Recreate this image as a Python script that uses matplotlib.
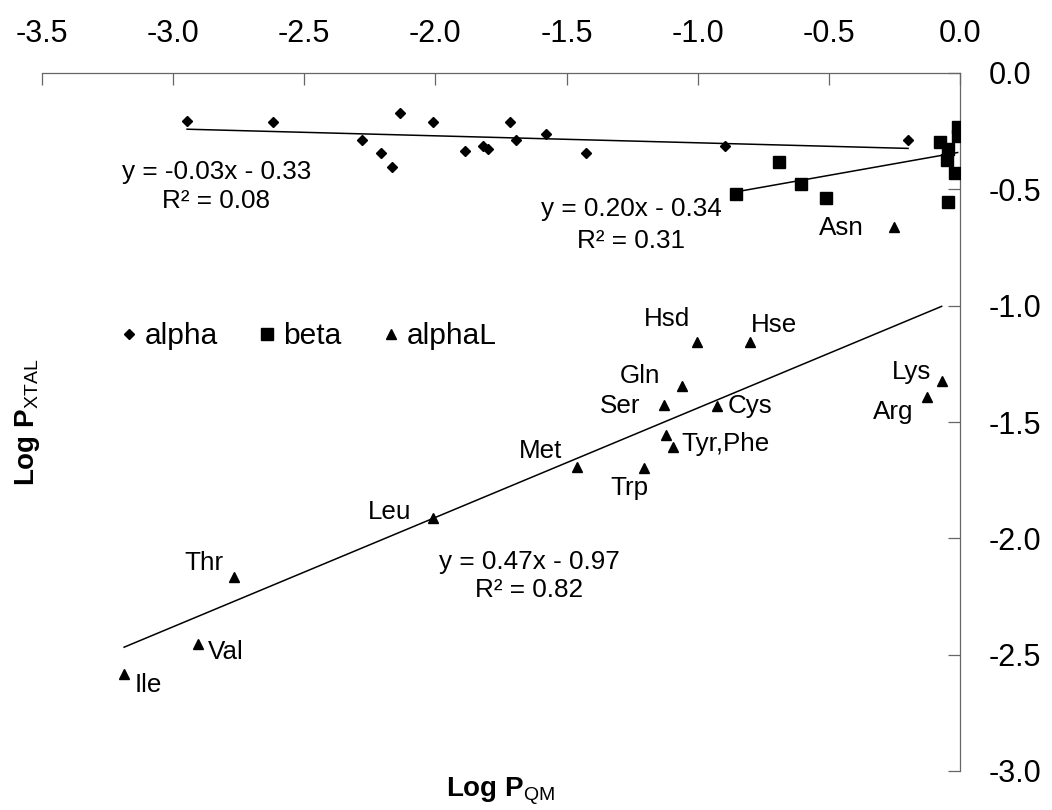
import matplotlib
matplotlib.use("Agg")
import matplotlib.pyplot as plt
import numpy as np
from matplotlib.ticker import FormatStrFormatter

plt.rcParams['font.family'] = ['Liberation Sans', 'DejaVu Sans']
plt.rcParams['axes.unicode_minus'] = False
plt.rcParams['mathtext.fontset'] = 'custom'
plt.rcParams['mathtext.rm'] = 'Liberation Sans'
plt.rcParams['mathtext.bf'] = 'Liberation Sans:bold'
plt.rcParams['mathtext.it'] = 'Liberation Sans:italic'

# ---------------- data ----------------
alpha_x = [-2.947, -2.619, -2.280, -2.207, -2.165, -2.135, -2.009, -1.887,
           -1.819, -1.799, -1.716, -1.693, -1.578, -1.426, -0.896, -0.198]
alpha_y = [-0.206, -0.211, -0.288, -0.344, -0.404, -0.172, -0.211, -0.335,
           -0.314, -0.327, -0.211, -0.288, -0.262, -0.344, -0.314, -0.288]

beta_x = [-0.855, -0.691, -0.606, -0.512, -0.076, -0.051, -0.047, -0.045,
          -0.019, -0.009, -0.009]
beta_y = [-0.520, -0.384, -0.477, -0.536, -0.295, -0.374, -0.553, -0.328,
          -0.431, -0.231, -0.271]

alphaL_names = ['Asn', 'Hsd', 'Hse', 'Gln', 'Ser', 'Cys', 'Tyr', 'Phe', 'Met',
                'Trp', 'Lys', 'Arg', 'Leu', 'Thr', 'Val', 'Ile']
alphaL_labels = ['Asn', 'Hsd', 'Hse', 'Gln', 'Ser', 'Cys', '', 'Tyr,Phe', 'Met',
                 'Trp', 'Lys', 'Arg', 'Leu', 'Thr', 'Val', 'Ile']
alphaL_x = [-0.252, -1.002, -0.799, -1.060, -1.127, -0.926, -1.121, -1.093,
            -1.461, -1.204, -0.070, -0.127, -2.008, -2.768, -2.904, -3.187]
alphaL_y = [-0.661, -1.155, -1.155, -1.345, -1.428, -1.431, -1.556, -1.606,
            -1.692, -1.696, -1.324, -1.391, -1.914, -2.168, -2.454, -2.583]

# trendline coefficients (slope, intercept) and R^2 as printed
alpha_fit = (-0.03, -0.33, 0.08)
beta_fit = (0.20, -0.34, 0.31)
alphaL_fit = (0.47, -0.97, 0.82)

x_ticks = [-3.5, -3.0, -2.5, -2.0, -1.5, -1.0, -0.5, 0.0]
y_ticks = [0.0, -0.5, -1.0, -1.5, -2.0, -2.5, -3.0]

# ---------------- layout / style ----------------
label_style = {  # (dx pt, dy pt, ha)
    'Asn': (-21.6, -1.2, 'right'), 'Hsd': (-4.8, 16.1, 'right'),
    'Hse': (0.3, 12.0, 'left'), 'Gln': (-15.8, 7.2, 'right'),
    'Ser': (-17.5, -0.5, 'right'), 'Cys': (7.7, 0.0, 'left'),
    'Tyr,Phe': (6.0, 1.9, 'left'), 'Met': (-10.6, 11.3, 'right'),
    'Trp': (-10.8, -14.8, 'center'), 'Lys': (-7.2, 6.7, 'right'),
    'Arg': (-9.6, -10.8, 'right'), 'Leu': (-15.6, 4.8, 'right'),
    'Thr': (-7.7, 10.5, 'right'), 'Val': (7.2, -5.5, 'left'),
    'Ile': (7.9, -7.9, 'left'),
}

W, H = 1052, 810
fig = plt.figure(figsize=(W / 100, H / 100), dpi=100)
ax = fig.add_axes([42 / W, 1 - 771 / H, 918 / W, 698 / H])

spine_c = '#666666'
ax.plot(alpha_x, alpha_y, ls='none', marker='D', ms=5.5, color='black',
        mec='black', label='alpha', zorder=3)
ax.plot(beta_x, beta_y, ls='none', marker='s', ms=8.3, color='black',
        mec='black', label='beta', zorder=3)
ax.plot(alphaL_x, alphaL_y, ls='none', marker='^', ms=7.0, color='black',
        mec='black', label='alphaL', zorder=3)

for (xs, ys, fit) in [(alpha_x, alpha_y, alpha_fit), (beta_x, beta_y, beta_fit),
                      (alphaL_x, alphaL_y, alphaL_fit)]:
    xx = np.array([min(xs), max(xs)])
    ax.plot(xx, fit[0] * xx + fit[1], color='black', lw=1.1, zorder=2)

for name, lab, x, y in zip(alphaL_names, alphaL_labels, alphaL_x, alphaL_y):
    if not lab:
        continue
    dx, dy, ha = label_style[lab]
    ax.annotate(lab, (x, y), xytext=(dx, dy), textcoords='offset points',
                ha=ha, va='center', fontsize=18.7)

def eq_text(fit):
    s, b, r2 = fit
    sign = '-' if b < 0 else '+'
    return f'y = {s:.2f}x {sign} {abs(b):.2f}', f'R\u00b2 = {r2:.2f}'

eq_pos = [(alpha_fit, -2.836, -0.425, -0.550),
          (beta_fit, -1.254, -0.584, -0.722),
          (alphaL_fit, -1.643, -2.101, -2.222)]
for fit, ex, ey1, ey2 in eq_pos:
    t1, t2 = eq_text(fit)
    ax.text(ex, ey1, t1, ha='center', va='center', fontsize=18.8)
    ax.text(ex, ey2, t2, ha='center', va='center', fontsize=18.8)

ax.set_xlim(-3.5, 0.0)
ax.set_ylim(-3.0, 0.0)
ax.set_xticks(x_ticks)
ax.set_yticks(y_ticks)
ax.xaxis.set_major_formatter(FormatStrFormatter('%.1f'))
ax.yaxis.set_major_formatter(FormatStrFormatter('%.1f'))
ax.xaxis.tick_top()
ax.yaxis.tick_right()
ax.tick_params(axis='x', direction='in', length=8.6, width=0.9, color=spine_c,
               pad=17, labelsize=22, top=True, bottom=False)
ax.tick_params(axis='y', direction='in', length=8.6, width=0.9, color=spine_c,
               pad=20.6, labelsize=22, right=True, left=False)
for side in ['left', 'bottom']:
    ax.spines[side].set_visible(False)
for side in ['top', 'right']:
    ax.spines[side].set_color(spine_c)
    ax.spines[side].set_linewidth(0.9)

leg = ax.legend(ncol=3, frameon=False, handlelength=0.55, handletextpad=0.26,
                columnspacing=1.37, borderpad=0, borderaxespad=0, numpoints=1,
                fontsize=21.5, loc='center left', bbox_to_anchor=(0.0858, 0.623))

fig.text(501 / W, 1 - 791 / H, r'$\mathbf{Log\ P}_{\mathrm{QM}}$', ha='center',
         va='center', fontsize=20)
fig.text(27 / W, 1 - 422 / H, r'$\mathbf{Log\ P}_{\mathrm{XTAL}}$', ha='center',
         va='center', rotation=90, fontsize=20)

fig.savefig('out.png', dpi=100)
